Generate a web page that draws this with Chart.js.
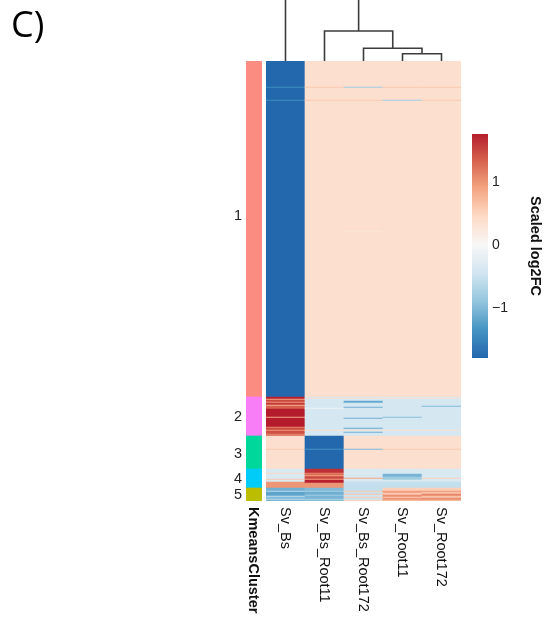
<!DOCTYPE html>
<html><head><meta charset="utf-8">
<script src="https://cdn.jsdelivr.net/npm/chart.js@4.4.1/dist/chart.umd.min.js"></script>
<style>
html,body{margin:0;padding:0;background:#fff;}
#wrap{position:relative;width:549px;height:618px;overflow:hidden;background:#fff;}
canvas{position:absolute;left:0;top:0;}
#panel{position:absolute;left:11px;top:6px;font-family:"Open Sans",sans-serif;font-size:36px;line-height:36px;color:#000;white-space:nowrap;}
</style></head><body>
<div id="wrap">
<canvas id="dendro" width="549" height="618"></canvas>
<canvas id="heat" width="549" height="618"></canvas>
<canvas id="clus" width="549" height="618"></canvas>
<canvas id="cbar" width="549" height="618"></canvas>
<div id="panel">C)</div>
</div>
<script>
const samples = ['Sv_Bs','Sv_Bs_Root11','Sv_Bs_Root172','Sv_Root11','Sv_Root172'];
const clusterNames = ['1','2','3','4','5'];
const clusterSizes = [336,39,33,19,13];
const clusterColors = ['#FB8C82','#F77EF6','#00D89B','#00CCF8','#BDBD00'];
const clusterLabelRows = [154.5,355.5,393,417.5,433.5];

// run-length encoded scaled log2FC per sample: [row count, value], top to bottom
const Sv_Bs = [
 [26,-1.78],[1,-1.4],[12,-1.78],[1,-1.4],[296,-1.78],
 [2,1.75],[1,0.9],[2,1.5],[1,1.0],[2,1.6],[1,0.8],[3,1.35],[8,1.78],[1,0.9],[9,1.78],[1,1.1],[2,1.5],[1,1.0],[3,1.45],[1,1.1],[1,1.35],
 [13,0.38],[1,0.6],[19,0.38],
 [4,-0.35],[1,0.5],[5,-0.35],[1,0.6],[2,-0.35],[6,1.0],
 [3,-1.1],[1,-0.6],[4,-1.2],[1,-0.55],[2,-1.0],[1,-0.6],[1,-1.05]
];
const Sv_Bs_Root11 = [
 [26,0.38],[1,0.6],[12,0.38],[1,0.6],[296,0.38],
 [1,-0.4],[1,0.4],[9,-0.4],[1,-0.1],[21,-0.4],[1,0.4],[5,-0.4],
 [13,-1.78],[1,-1.35],[19,-1.78],
 [4,1.65],[1,1.1],[1,1.4],[1,0.9],[1,1.3],[2,1.5],[1,0.9],[3,1.75],[5,1.0],
 [3,-1.0],[1,-0.75],[3,-1.1],[1,-0.8],[3,-1.05],[1,-0.75],[1,-0.95]
];
const Sv_Bs_Root172 = [
 [26,0.38],[1,-0.8],[12,0.38],[1,0.6],[130,0.38],[1,0.3],[165,0.38],
 [1,-0.4],[1,0.4],[2,-0.4],[2,-1.15],[4,-0.4],[1,-1.1],[10,-0.4],[1,-1.1],[9,-0.4],[1,-1.15],[1,-0.4],[1,0.4],[1,-0.4],[1,-1.1],[3,-0.4],
 [13,0.38],[1,-1.0],[19,0.38],
 [9,-0.35],[1,0.9],[3,-0.35],[6,-0.55],
 [3,-0.55],[1,0.6],[2,-0.5],[1,0.65],[2,-0.45],[1,0.6],[2,-0.5],[1,0.5]
];
const Sv_Root11 = [
 [26,0.38],[1,0.6],[12,0.38],[1,-0.8],[296,0.38],
 [1,-0.4],[1,0.35],[18,-0.4],[1,-0.95],[12,-0.4],[1,0.35],[5,-0.4],
 [13,0.38],[1,0.6],[19,0.38],
 [5,-0.35],[3,-1.05],[3,-0.8],[2,-0.35],[6,-0.55],
 [3,0.55],[2,0.95],[2,0.6],[2,1.05],[1,0.6],[2,1.0],[1,0.7]
];
const Sv_Root172 = [
 [26,0.38],[1,0.6],[12,0.38],[1,0.6],[296,0.38],
 [1,-0.4],[1,0.35],[7,-0.4],[1,-1.0],[23,-0.4],[1,0.35],[5,-0.4],
 [13,0.38],[1,0.6],[19,0.38],
 [9,-0.35],[1,0.55],[3,-0.35],[6,-0.55],
 [3,0.55],[1,1.0],[2,0.65],[2,1.1],[2,0.65],[2,1.05],[1,0.75]
];

// column dendrogram (hclust style: negative = leaf, positive = earlier merge)
const dendroMerges = [[-4,-5],[-3,1],[-2,2],[-1,3]];
const dendroHeights = [0.73,1.27,3.0,9.0];
const dendroMaxShown = 6.1;

// colour legend
const legendBreaks = [-1.8,-1.35,-0.9,-0.45,0,0.45,0.9,1.35,1.8];
const legendColors = ['#2166AC','#4393C3','#92C5DE','#D1E5F0','#F7F7F7','#FDDBC7','#F4A582','#D6604D','#B2182B'];
const legendRange = [-1.79,1.76];
const legendTicks = [-1,0,1];
const legendTitle = 'Scaled log2FC';
const clusterTitle = 'KmeansCluster';

const FONT = '"Liberation Sans", Arial, Helvetica, sans-serif';
function hex2rgb(h){return [1,3,5].map(i=>parseInt(h.substr(i,2),16));}
const legendRGB = legendColors.map(hex2rgb);
function colorFor(v){
  const n = legendBreaks.length;
  if (v <= legendBreaks[0]) return legendColors[0];
  if (v >= legendBreaks[n-1]) return legendColors[n-1];
  let i = 0; while (v > legendBreaks[i+1]) i++;
  const t = (v - legendBreaks[i]) / (legendBreaks[i+1] - legendBreaks[i]);
  const a = legendRGB[i], b = legendRGB[i+1];
  return 'rgb(' + a.map((c,k)=>Math.round(c + (b[k]-c)*t)).join(',') + ')';
}

const runsBySample = [Sv_Bs, Sv_Bs_Root11, Sv_Bs_Root172, Sv_Root11, Sv_Root172];
const totalRows = clusterSizes.reduce((a,b)=>a+b,0);
const heatCells = [];
runsBySample.forEach((runs, si) => {
  let r = 0;
  runs.forEach(([n, v]) => { heatCells.push({x: samples[si], y: [r, r+n], v: v}); r += n; });
});

const common = {responsive:false, animation:false, events:[], plugins:{legend:{display:false}, tooltip:{enabled:false}}};

// heatmap
new Chart(document.getElementById('heat'), {
  type:'bar',
  data:{labels:samples, datasets:[{data:heatCells, backgroundColor:c=>colorFor(c.raw.v), borderWidth:0, barPercentage:1, categoryPercentage:1}]},
  options:Object.assign({}, common, {
    layout:{padding:{left:266,right:88,top:61,bottom:117}},
    scales:{x:{display:false}, y:{display:false, min:0, max:totalRows, reverse:true}}
  }),
  plugins:[{id:'colLabels', afterDraw(chart){
    const {ctx, chartArea, scales:{x}} = chart;
    ctx.save();
    ctx.font = '14.5px ' + FONT; ctx.fillStyle = '#111';
    ctx.textAlign = 'left'; ctx.textBaseline = 'middle';
    samples.forEach((s,i)=>{
      ctx.save(); ctx.translate(x.getPixelForValue(i)-1, chartArea.bottom+6); ctx.rotate(Math.PI/2);
      ctx.fillText(s,0,0); ctx.restore();
    });
    ctx.restore();
  }}]
});

// cluster annotation bar
const clusterCells = []; let r0 = 0;
clusterSizes.forEach((n,i)=>{ clusterCells.push({x:clusterTitle, y:[r0, r0+n], c:clusterColors[i]}); r0 += n; });
new Chart(document.getElementById('clus'), {
  type:'bar',
  data:{labels:[clusterTitle], datasets:[{data:clusterCells, backgroundColor:c=>c.raw.c, borderWidth:0, barPercentage:1, categoryPercentage:1}]},
  options:Object.assign({}, common, {
    layout:{padding:{left:226,right:287,top:61,bottom:117}},
    scales:{
      x:{display:false},
      y:{min:0, max:totalRows, reverse:true, position:'left',
         grid:{display:false, drawTicks:false}, border:{display:false},
         afterFit:s=>{ s.width = 20; },
         afterBuildTicks:s=>{ s.ticks = clusterLabelRows.map(v=>({value:v})); },
         ticks:{autoSkip:false, padding:4, color:'#222', font:{family:FONT, size:14.5}, callback:(v,i)=>clusterNames[i]}}
    }
  }),
  plugins:[{id:'kmLabel', afterDraw(chart){
    const {ctx, chartArea, scales:{x}} = chart;
    ctx.save();
    ctx.font = 'bold 14.5px ' + FONT; ctx.fillStyle = '#111';
    ctx.textAlign = 'left'; ctx.textBaseline = 'middle';
    ctx.translate(x.getPixelForValue(0)-1.5, chartArea.bottom+6); ctx.rotate(Math.PI/2);
    ctx.fillText(clusterTitle,0,0);
    ctx.restore();
  }}]
});

// colour bar legend
new Chart(document.getElementById('cbar'), {
  type:'bar',
  data:{labels:[legendTitle], datasets:[{data:[{x:legendTitle, y:legendRange}],
    backgroundColor:c=>{
      const ch = c.chart, y = ch.scales.y;
      if (!ch.chartArea || !y) return '#ccc';
      const p0 = y.getPixelForValue(legendRange[0]), p1 = y.getPixelForValue(legendRange[1]);
      const g = ch.ctx.createLinearGradient(0,p0,0,p1);
      const span = legendRange[1]-legendRange[0];
      g.addColorStop(0, colorFor(legendRange[0]));
      legendBreaks.forEach(b=>{ if (b>legendRange[0] && b<legendRange[1]) g.addColorStop((b-legendRange[0])/span, colorFor(b)); });
      g.addColorStop(1, colorFor(legendRange[1]));
      return g;
    }, borderWidth:0, barPercentage:1, categoryPercentage:1}]},
  options:Object.assign({}, common, {
    layout:{padding:{left:472,right:1,top:134,bottom:260}},
    scales:{
      x:{display:false},
      y:{position:'right', min:legendRange[0], max:legendRange[1],
         grid:{display:false, drawTicks:false}, border:{display:false},
         afterFit:s=>{ s.width = 60; },
         afterBuildTicks:s=>{ s.ticks = legendTicks.map(v=>({value:v})); },
         ticks:{autoSkip:false, padding:4, color:'#222', font:{family:FONT, size:14},
                callback:v=> v<0 ? '\u2212'+Math.abs(v) : String(v)},
         title:{display:true, text:legendTitle, color:'#111', font:{family:FONT, size:14.5, weight:'bold'}}}
    }
  })
});

// dendrogram
const leafX = samples.map((s,i)=>i+0.5);
const nodeX = [];
const dendroSets = dendroMerges.map(([a,b],k)=>{
  const pos = m => m<0 ? {x:leafX[-m-1], y:0} : {x:nodeX[m-1], y:dendroHeights[m-1]};
  const A = pos(a), B = pos(b), h = dendroHeights[k];
  nodeX.push((A.x+B.x)/2);
  return {data:[{x:A.x,y:A.y},{x:A.x,y:h},{x:B.x,y:h},{x:B.x,y:B.y}],
          showLine:true, borderColor:'#3c3c3c', borderWidth:1.6, pointRadius:0, tension:0, fill:false};
});
new Chart(document.getElementById('dendro'), {
  type:'scatter',
  data:{datasets:dendroSets},
  options:Object.assign({}, common, {
    layout:{padding:{left:266,right:88,top:0,bottom:557}},
    scales:{x:{type:'linear', display:false, min:0, max:samples.length},
            y:{type:'linear', display:false, min:0, max:dendroMaxShown}}
  })
});
</script>
</body></html>
